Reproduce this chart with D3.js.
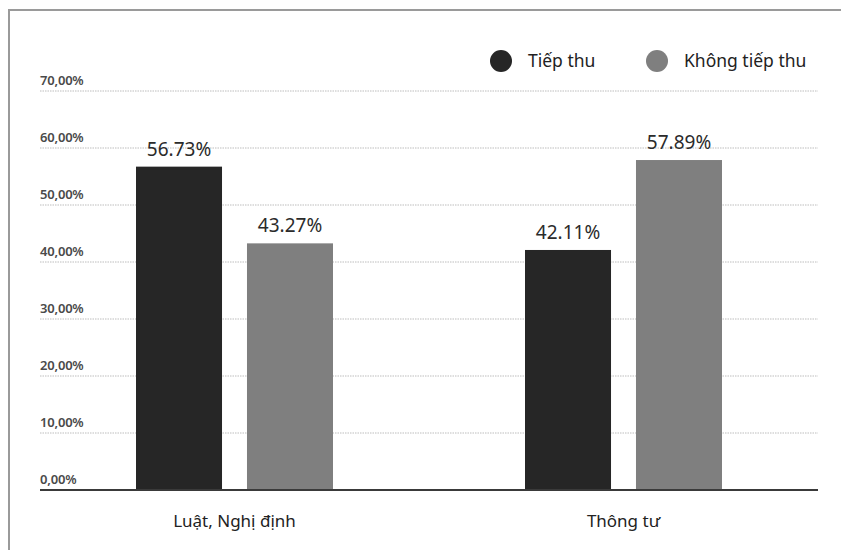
<!DOCTYPE html>
<html><head><meta charset="utf-8">
<script src="https://cdn.jsdelivr.net/npm/d3@7"></script>
<style>
html,body{margin:0;padding:0;background:#fff;}
svg{display:block;font-family:"Noto Sans",sans-serif;}
</style></head>
<body>
<svg id="chart" width="841" height="550"></svg>
<script>
const categories = ["Luật, Nghị định", "Thông tư"];
const seriesNames = ["Tiếp thu", "Không tiếp thu"];
const tiepThu = [56.73, 42.11];
const khongTiepThu = [43.27, 57.89];
const yTicks = [0, 10, 20, 30, 40, 50, 60, 70];
const tickLabels = ["0,00%", "10,00%", "20,00%", "30,00%", "40,00%", "50,00%", "60,00%", "70,00%"];
const colors = ["#262626", "#7f7f7f"];

(function () {
const svg = d3.select("#chart");
// frame
svg.append("path").attr("d", "M9,550 V10 H841").attr("fill", "none").attr("stroke", "#9a9a9a").attr("stroke-width", 2);

const mLeft = 40, mRight = 818, mTop = 91, mBottom = 490;
const y = d3.scaleLinear().domain([0, 70]).range([mBottom, mTop]);
const x0 = d3.scaleBand().domain(categories).range([mLeft, mRight]);
const x1 = d3.scaleBand().domain(seriesNames).range([0, 197]).paddingInner(0.225);

// gridlines and tick labels
const ticks = svg.append("g");
yTicks.forEach((t, i) => {
  if (t > 0) {
    ticks.append("line").attr("x1", mLeft).attr("x2", mRight).attr("y1", y(t)).attr("y2", y(t))
      .attr("stroke", "#bdbdbd").attr("stroke-width", 1).attr("stroke-dasharray", "1.5,1");
  }
  ticks.append("text").attr("x", mLeft).attr("y", y(t) - 6).text(tickLabels[i])
    .attr("font-size", 13).attr("font-weight", 600).attr("fill", "#4a4a4a").attr("letter-spacing", -0.2);
});

const data = categories.map((c, i) => ({cat: c, vals: [tiepThu[i], khongTiepThu[i]]}));
const groups = svg.append("g").selectAll("g").data(data).join("g")
  .attr("transform", d => `translate(${x0(d.cat) + x0.bandwidth() / 2 - 98.5},0)`);
groups.selectAll("rect").data(d => d.vals.map((v, j) => ({v, s: seriesNames[j], j})))
  .join("rect")
  .attr("x", d => x1(d.s)).attr("width", x1.bandwidth())
  .attr("y", d => y(d.v)).attr("height", d => mBottom - y(d.v))
  .attr("fill", d => colors[d.j]);
groups.selectAll("text").data(d => d.vals.map((v, j) => ({v, s: seriesNames[j], j})))
  .join("text")
  .attr("x", d => x1(d.s) + x1.bandwidth() / 2).attr("y", d => y(d.v) - 11)
  .attr("text-anchor", "middle").attr("font-size", 19).attr("fill", "#2b2b2b")
  .text(d => d.v.toFixed(2) + "%");

// axis baseline
svg.append("line").attr("x1", mLeft).attr("x2", mRight).attr("y1", mBottom).attr("y2", mBottom)
  .attr("stroke", "#3a3a3a").attr("stroke-width", 2);

// category labels
svg.append("g").selectAll("text").data(categories).join("text")
  .attr("x", d => x0(d) + x0.bandwidth() / 2).attr("y", 527)
  .attr("text-anchor", "middle").attr("font-size", 17).attr("fill", "#222")
  .text(d => d);

// legend
const legendX = [501, 657];
const lg = svg.append("g").selectAll("g").data(seriesNames).join("g");
lg.append("circle").attr("cx", (d, i) => legendX[i]).attr("cy", 61).attr("r", 11)
  .attr("fill", (d, i) => colors[i]);
lg.append("text").attr("x", (d, i) => legendX[i] + 27).attr("y", 67)
  .attr("font-size", 17.5).attr("fill", "#222").text(d => d);
})();
</script>
</body></html>
